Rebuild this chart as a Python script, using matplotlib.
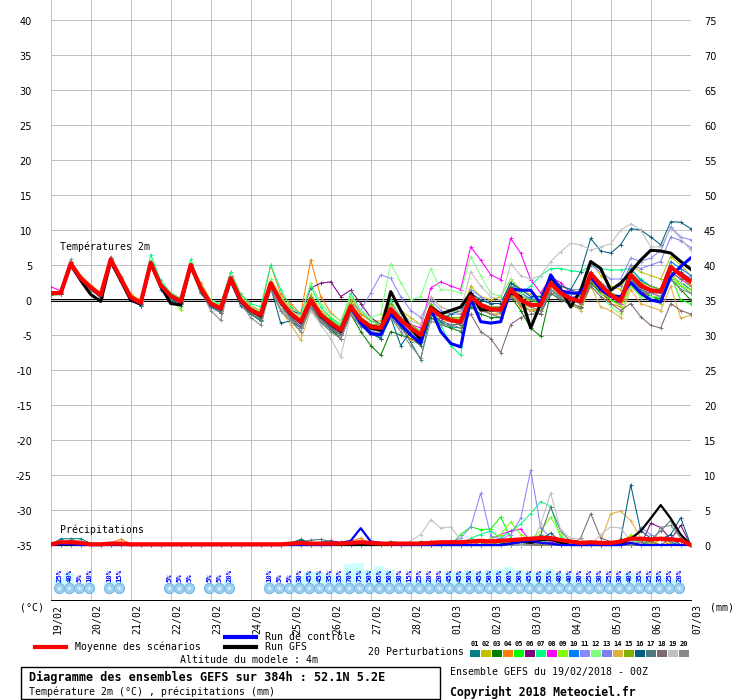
import numpy as np
import matplotlib
matplotlib.use("Agg")
import matplotlib.pyplot as plt
from matplotlib.patches import Rectangle

# GEFS run 19/02/2018 00Z, 6-hourly steps out to 384h
hours = np.arange(0, 385, 6)
days = ["19/02", "20/02", "21/02", "22/02", "23/02", "24/02", "25/02", "26/02", "27/02",
        "28/02", "01/03", "02/03", "03/03", "04/03", "05/03", "06/03", "07/03"]

# ---- 2m temperature (degC) -------------------------------------------------
mean_t = [1.0, 1.0, 5.2, 3.1, 1.8, 0.7, 5.8, 3.1, 0.4, -0.4, 5.3, 2.1, 0.6, -0.2, 5.0, 1.7,
          -0.5, -1.2, 3.1, 0.0, -1.4, -2.1, 2.4, -0.2, -1.9, -3.1, 0.0, -2.1, -3.3, -4.3, -0.9, -2.8,
          -3.8, -4.0, -1.3, -2.9, -4.0, -5.0, -1.2, -2.3, -2.9, -3.1, 0.5, -0.7, -1.3, -1.4, 1.5, 0.0,
          -0.7, -0.7, 2.4, 1.0, 0.2, -0.2, 3.8, 2.1, 0.7, -0.1, 3.6, 2.1, 1.4, 1.2, 4.7, 3.6, 2.6]
ctrl_t = [1.0, 1.0, 5.2, 3.0, 1.8, 0.6, 5.8, 3.0, 0.3, -0.5, 5.3, 2.0, 0.5, -0.3, 5.0, 1.6,
          -0.6, -1.3, 3.0, -0.1, -1.5, -2.2, 2.3, -0.3, -2.0, -3.2, -0.1, -2.2, -3.4, -4.4, -1.0, -3.3,
          -4.8, -5.0, -2.0, -3.5, -5.0, -6.2, -1.2, -4.5, -6.2, -6.7, 0.2, -3.1, -3.3, -3.1, 1.6, 1.4,
          1.4, -0.5, 3.6, 1.3, 1.0, 1.0, 3.3, 1.5, 0.5, 0.5, 2.5, 1.0, 0.0, -0.3, 3.3, 4.8, 6.0]
gfs_t = [1.0, 0.9, 5.0, 2.8, 0.8, -0.2, 5.5, 2.8, 0.0, -0.6, 5.3, 2.0, -0.5, -0.7, 4.9, 1.6,
         -0.6, -1.3, 3.0, -0.2, -1.5, -2.3, 2.3, -0.3, -2.0, -3.2, 0.0, -2.3, -3.5, -4.5, -1.0, -3.0,
         -4.0, -4.3, 1.2, -1.5, -4.0, -5.7, -1.0, -2.0, -1.5, -1.0, 1.0, -1.4, -1.4, -1.3, 1.0, 0.5,
         -4.0, -0.5, 3.3, 1.5, -1.0, 1.4, 5.5, 4.5, 1.4, 2.4, 4.0, 5.7, 7.1, 7.0, 6.7, 5.5, 4.4]

t01 = [0.8, 0.9, 5.5, 3.0, 1.5, 0.5, 6.0, 2.8, 0.0, -0.8, 5.0, 1.8, 0.4, -0.5, 4.5, 1.2,
       -0.8, -1.8, 2.5, -0.6, -2.0, -3.0, 1.5, -1.5, -3.0, -4.5, -1.0, -3.0, -4.2, -5.5, -1.8, -3.5,
       -4.8, -5.5, -2.0, -3.8, -6.0, -8.5, -2.0, -3.2, -3.8, -4.0, 0.0, -1.2, -2.0, -2.5, 1.0, -0.8,
       -1.5, -2.0, 1.5, 0.2, -0.8, -1.2, 2.5, 1.0, 0.0, -0.8, 2.8, 1.5, 0.5, 0.0, 3.5, 2.5, 1.5]
t02 = [1.2, 1.1, 5.0, 3.4, 2.0, 1.0, 5.5, 3.4, 0.8, 0.0, 5.6, 2.5, 1.0, 0.2, 5.3, 2.0,
       -0.2, -0.8, 3.5, 0.5, -1.0, -1.6, 3.0, 0.5, -1.2, -2.5, 0.8, -1.5, -2.5, -3.5, 0.0, -2.0,
       -3.0, -3.0, 1.2, -1.5, -2.5, -3.5, 0.5, -1.0, -1.5, -2.0, 2.0, 0.5, 0.0, 0.5, 3.0, 1.5,
       0.8, 0.5, 3.5, 2.0, 1.5, 1.0, 5.5, 3.5, 2.0, 1.5, 5.0, 4.0, 3.5, 3.0, 6.2, 5.0, 3.5]
t03 = [0.7, 0.8, 4.8, 2.8, 1.5, 0.3, 5.5, 2.7, 0.2, -0.6, 5.0, 1.9, 0.3, -0.4, 4.7, 1.4,
       -0.7, -1.5, 2.8, -0.3, -1.8, -2.5, 2.0, -0.8, -2.5, -3.8, -0.8, -2.8, -4.0, -5.5, -2.0, -4.5,
       -6.5, -7.9, -4.5, -5.0, -5.5, -6.5, -2.5, -3.5, -4.0, -4.5, -1.0, -2.0, -2.5, -2.5, 0.5, -1.5,
       -4.0, -5.2, 1.0, 0.0, -0.5, -1.0, 2.5, 1.0, 0.0, -0.5, 2.5, 1.2, 0.5, 0.2, 3.0, 1.5, 0.0]
t04 = [1.0, 1.2, 5.6, 3.5, 2.2, 1.0, 5.9, 3.5, 0.8, -0.2, 5.4, 2.4, 1.0, 0.2, 5.0, 2.5,
       0.0, -0.8, 4.0, 0.8, -0.8, -1.5, 5.0, 0.8, -0.5, -2.0, 5.7, 0.5, -1.8, -3.0, 0.5, -2.0,
       -3.0, -3.5, -0.5, -3.5, -5.7, -6.0, -1.5, -3.0, -3.0, -3.0, 1.0, -1.0, -2.0, -2.0, 0.8, -1.0,
       -1.5, -1.0, 2.0, 0.5, -0.5, -1.0, 2.8, 1.2, -0.5, -1.0, 2.0, 0.5, 1.0, 1.5, 4.0, 2.0, 1.0]
t05 = [1.1, 1.0, 5.3, 3.2, 1.8, 0.8, 5.7, 3.2, 0.5, -0.3, 5.5, 2.2, 0.8, -0.1, 5.2, 1.8,
       -0.3, -1.0, 3.3, 0.2, -1.2, -1.8, 2.6, 0.0, -1.8, -2.8, 0.5, -1.8, -2.8, -3.8, -0.5, -2.5,
       -3.5, -3.8, -1.5, -3.0, -3.8, -4.5, -0.8, -2.0, -2.5, -3.0, 0.8, -0.5, -1.0, -1.0, 1.8, 0.5,
       0.0, -0.5, 3.0, 1.5, 0.5, 0.0, 3.5, 1.8, 0.5, 0.0, 4.0, 2.0, 0.5, 0.0, 3.5, 0.0, -0.5]
t06 = [1.0, 0.9, 5.0, 3.0, 1.7, 0.6, 5.6, 3.0, 0.4, -0.5, 5.2, 2.0, 0.5, -0.3, 5.0, 1.7,
       -0.5, -1.3, 3.0, 0.0, -1.3, -2.0, 2.5, -0.5, -1.5, -2.0, 1.7, 2.4, 2.6, 0.5, 1.4, -0.5,
       -2.5, -3.5, -1.5, -3.0, -4.0, -5.5, -1.0, -2.5, -3.0, -3.5, 0.0, -1.0, -1.5, -1.5, 1.2, 0.0,
       -0.5, -0.5, 2.0, 0.5, 0.0, -0.5, 3.0, 1.5, 0.5, 0.0, 3.0, 1.8, 1.2, 1.5, 4.5, 4.0, 3.0]
t07 = [1.2, 1.2, 5.4, 3.3, 2.0, 0.9, 6.0, 3.4, 0.6, -0.2, 6.5, 2.8, 1.0, 0.2, 5.8, 2.0,
       0.0, -0.6, 4.0, 0.8, -0.5, -1.0, 5.0, 1.5, -1.0, -2.0, 2.0, -1.0, -2.5, -3.5, 1.0, -1.5,
       -3.0, -3.5, 0.0, -2.5, -3.5, -4.5, -1.0, -3.5, -6.5, -7.9, 1.0, -1.0, -1.0, -1.0, 2.0, 1.0,
       2.0, 3.5, 4.5, 4.5, 4.2, 4.0, 5.0, 4.5, 4.3, 4.3, 4.5, 3.0, 2.0, 1.5, 3.0, 2.0, 1.0]
t08 = [1.9, 1.3, 5.3, 3.0, 1.8, 0.7, 5.8, 3.2, 0.5, -0.3, 5.5, 2.2, 0.6, 0.0, 5.2, 1.9,
       -0.3, -1.0, 3.5, 0.2, -1.2, -2.0, 2.2, -0.5, -2.0, -3.0, 0.5, -2.0, -3.0, -4.0, -0.5, -2.8,
       -3.5, -3.8, -1.0, -2.5, -3.5, -4.0, 1.7, 2.6, 2.0, 1.5, 7.6, 5.7, 3.6, 2.9, 8.8, 6.7,
       2.9, 1.0, 3.3, 2.5, 1.0, 0.5, 3.0, 1.5, 0.5, -0.5, 2.5, 1.0, 1.0, 0.5, 4.0, 3.0, 2.0]
t09 = [0.9, 0.8, 5.0, 3.0, 1.6, 0.6, 5.6, 3.0, 0.3, -0.6, 5.0, 1.8, 0.2, -1.4, 4.8, 1.5,
       -0.6, -1.4, 3.0, -0.2, -1.5, -2.3, 2.0, -0.5, -2.0, -3.5, -0.5, -2.5, -3.5, -4.8, -1.2, -3.0,
       -4.0, -4.5, -2.0, -3.5, -4.5, -5.5, -1.5, -2.5, -2.5, -2.8, 0.8, -0.5, -1.0, -1.5, 1.2, -0.5,
       -1.0, -1.5, 3.0, 1.0, 0.0, -0.5, 3.5, 1.5, 0.0, -0.8, 2.5, 0.5, 0.0, -0.5, 3.5, 2.0, 1.5]
t10 = [1.0, 1.0, 5.1, 3.0, 1.8, 0.7, 5.7, 3.0, 0.4, -0.5, 5.2, 2.0, 0.5, -0.3, 4.9, 1.6,
       -0.6, -1.3, 3.0, -0.2, -1.5, -2.2, 2.2, -0.5, -2.2, -3.3, -0.2, -2.3, -3.5, -4.5, -1.0, -3.0,
       -4.0, -4.2, -1.5, -3.2, -4.2, -5.2, -1.0, -2.0, -2.5, -2.5, 1.0, 0.0, -0.5, -0.5, 2.5, 1.0,
       0.2, 0.0, 3.5, 1.5, 0.5, 0.0, 4.0, 2.5, 1.0, 0.5, 4.5, 2.8, 2.0, 1.5, 5.5, 4.5, 3.5]
t11 = [1.0, 1.1, 5.3, 3.2, 1.9, 0.8, 5.9, 3.2, 0.5, -0.3, 5.4, 2.2, 0.7, -0.1, 5.1, 1.8,
       -0.4, -1.1, 3.2, 0.1, -1.3, -2.0, 2.5, -0.1, -1.8, -3.0, 0.2, -2.0, -3.0, -4.0, -0.5, -1.5,
       1.0, 3.6, 3.1, 0.5, -1.5, -2.5, 0.0, -1.5, -2.0, -2.0, 1.5, 0.5, -0.5, -0.5, 2.0, 1.0,
       0.0, 0.0, 3.0, 2.0, 1.5, 1.5, 5.0, 4.0, 3.0, 3.0, 6.0, 5.5, 6.0, 7.0, 10.5, 9.0, 8.6]
t12 = [1.1, 1.0, 5.4, 3.3, 2.0, 0.9, 6.0, 3.3, 0.6, -0.2, 5.6, 2.4, 0.8, 0.0, 5.4, 2.0,
       0.0, -0.8, 3.6, 0.5, -0.9, -1.6, 3.0, 0.3, -1.5, -2.5, 2.5, -0.5, -2.0, -3.0, 0.5, -1.5,
       -2.5, -2.0, 5.2, 2.5, 0.0, 0.5, 4.5, 1.5, 1.4, 1.0, 6.2, 3.5, 1.0, 0.5, 3.0, 1.0,
       -0.5, -1.0, 2.0, 0.5, -0.5, -1.0, 2.0, 0.8, -1.0, -2.0, 2.0, 0.5, 0.5, 0.5, 3.5, 2.5, 2.0]
t13 = [0.9, 0.9, 5.1, 3.0, 1.7, 0.6, 5.7, 3.0, 0.3, -0.5, 5.1, 2.0, 0.5, -0.3, 4.8, 1.6,
       -0.6, -1.3, 2.9, -0.2, -1.6, -2.3, 2.0, -0.6, -2.3, -3.5, -0.5, -2.5, -3.8, -4.8, -1.5, -3.3,
       -4.5, -4.8, -2.0, -3.5, -4.8, -5.8, -1.5, -2.5, -3.0, -3.0, 0.5, -0.5, -1.0, -1.2, 1.5, 0.2,
       -0.5, -0.5, 2.0, 1.0, 0.5, 0.5, 3.5, 2.5, 1.5, 2.0, 5.0, 4.5, 5.0, 5.5, 9.0, 8.5, 7.5]
t14 = [1.0, 1.0, 5.0, 3.0, 1.7, 0.6, 5.7, 3.0, 0.3, -0.5, 5.0, 1.9, 0.4, -0.4, 4.7, 1.5,
       -0.8, -1.6, 2.6, -0.5, -1.8, -2.6, 1.5, -1.5, -3.5, -5.7, -1.5, -3.0, -4.0, -5.0, -1.5, -3.5,
       -4.2, -4.5, -1.5, -3.0, -4.0, -5.0, -1.0, -2.5, -3.0, -3.5, 0.0, -1.0, -2.0, -2.0, 1.0, -0.5,
       -1.5, -1.5, 2.0, 0.5, -0.5, -1.5, 2.0, -1.0, -1.5, -2.5, 1.5, -0.5, -1.0, -1.5, 2.0, -2.6, -2.2]
t15 = [1.0, 1.0, 5.2, 3.1, 1.8, 0.7, 5.8, 3.1, 0.4, -0.4, 5.3, 2.1, 0.6, -0.2, 5.0, 1.7,
       -0.5, -1.2, 3.1, 0.0, -1.4, -2.1, 2.4, -0.2, -1.9, -3.1, 0.5, -1.8, -3.0, -4.0, -0.5, -2.5,
       -3.5, -3.5, -0.5, -2.5, -3.5, -4.5, -0.5, -2.0, -2.5, -2.5, 0.5, -0.5, -1.0, -1.0, 2.0, 0.5,
       0.0, 0.0, 3.0, 1.5, 1.0, 0.5, 4.0, 2.5, 1.0, 0.5, 4.0, 2.5, 2.0, 1.5, 5.0, 3.5, 2.0]
t16 = [0.9, 0.8, 5.4, 3.0, 1.5, 0.5, 5.6, 2.8, 0.0, -0.8, 5.5, 1.5, 0.0, -0.8, 4.8, 1.0,
       -1.0, -1.8, 2.5, -0.8, -2.0, -2.8, 1.8, -3.3, -3.0, -4.0, -1.0, -2.8, -4.0, -5.0, -1.5, -3.0,
       -4.5, -5.5, -2.5, -6.5, -4.5, -5.0, -2.0, -3.0, -2.0, -1.5, 1.0, 0.0, -0.5, -0.5, 2.5, 1.5,
       0.5, 0.5, 3.5, 2.0, 1.5, 4.0, 8.8, 7.0, 6.7, 7.9, 10.2, 10.0, 9.0, 7.9, 11.2, 11.1, 10.2]
t17 = [0.9, 0.9, 5.0, 2.8, 1.5, 0.4, 5.5, 2.7, 0.1, -0.7, 5.0, 1.8, 0.2, -0.6, 4.6, 1.2,
       -1.0, -1.8, 2.7, -0.6, -2.0, -2.8, 1.8, -1.0, -2.8, -4.0, -1.0, -3.2, -4.5, -5.5, -2.0, -3.8,
       -4.5, -4.8, -2.5, -4.0, -5.0, -6.0, -2.0, -3.0, -3.5, -3.5, 0.2, -1.0, -1.5, -1.8, 1.5, 0.0,
       -0.5, -0.8, 3.5, 1.0, 0.0, -0.5, 3.0, 1.5, 0.5, 0.0, 3.0, 1.5, 1.0, 1.0, 4.0, 3.0, 3.0]
t18 = [1.0, 0.9, 5.0, 2.9, 1.6, 0.5, 5.6, 2.9, 0.2, -0.6, 5.1, 1.9, 0.4, -0.4, 4.8, 1.5,
       -0.7, -1.4, 2.8, -0.3, -1.6, -2.4, 2.0, -0.8, -2.5, -3.8, -0.8, -2.8, -4.0, -5.0, -1.5, -3.2,
       -4.2, -4.5, -2.0, -3.5, -4.5, -5.5, -1.5, -2.5, -3.0, -3.5, -2.0, -4.5, -5.5, -7.5, -3.5, -2.5,
       -2.0, -2.0, 1.0, 0.0, -0.5, -1.0, 2.0, 0.5, -0.5, -1.5, -0.5, -2.4, -3.6, -4.0, -0.5, -1.5, -2.0]
t19 = [1.0, 1.0, 5.3, 3.2, 1.9, 0.8, 5.9, 3.2, 0.5, -0.3, 5.4, 2.2, 0.7, -0.1, 5.1, 1.8,
       -0.4, -1.1, 3.2, 0.1, -1.3, -2.0, 2.0, -1.0, -3.0, -4.5, -1.5, -3.5, -5.5, -8.1, -2.0, -3.5,
       -4.0, -3.5, -1.0, -2.0, -3.0, -3.5, 0.5, -1.0, -1.5, -1.5, 4.0, 2.0, 0.5, 0.0, 5.2, 3.5,
       3.0, 3.5, 5.5, 6.9, 8.1, 7.9, 7.1, 7.6, 8.0, 10.0, 10.9, 10.0, 7.6, 7.6, 10.2, 8.8, 7.1]
t20 = [1.0, 1.0, 5.8, 3.0, 1.6, 0.5, 6.2, 2.9, 0.2, -0.6, 5.3, 1.9, 0.3, -0.5, 5.2, 1.4,
       -1.5, -2.9, 2.5, -0.5, -2.5, -3.6, 1.5, -1.5, -3.0, -4.5, -1.0, -3.0, -4.5, -5.5, -2.0, -3.5,
       -5.0, -5.0, -2.5, -4.5, -6.5, -8.3, -3.0, -3.5, -3.5, -4.0, -0.5, -1.5, -2.0, -2.5, 0.5, -0.5,
       -1.0, -1.5, 1.5, 0.5, 0.0, -0.5, 3.0, 1.5, 0.5, 0.0, 3.0, 1.0, 1.0, 0.5, 3.0, 1.5, 1.0]

# ---- precipitation per 6h (mm) --------------------------------------------
mean_p = [0.1, 0.4, 0.4, 0.3, 0.1, 0.1, 0.2, 0.2, 0.1, 0.1, 0.1, 0.1, 0.1, 0.1, 0.1, 0.1,
          0.1, 0.1, 0.1, 0.1, 0.1, 0.1, 0.1, 0.1, 0.2, 0.3, 0.2, 0.2, 0.2, 0.2, 0.3, 0.4,
          0.3, 0.2, 0.2, 0.2, 0.2, 0.2, 0.3, 0.4, 0.4, 0.4, 0.5, 0.6, 0.5, 0.6, 0.7, 0.8,
          0.9, 1.0, 1.0, 0.7, 0.5, 0.3, 0.4, 0.3, 0.3, 0.5, 0.9, 0.9, 0.8, 0.9, 0.8, 0.7, 0.0]
ctrl_p = [0, 0.1, 0.1, 0, 0, 0, 0, 0, 0, 0, 0, 0, 0, 0, 0, 0,
          0, 0, 0, 0, 0, 0, 0, 0, 0, 0, 0, 0, 0, 0.3, 0.6, 2.4,
          0.5, 0.3, 0.1, 0, 0, 0, 0, 0, 0, 0, 0, 0, 0, 0, 0.2, 0.4,
          0.6, 0.3, 0.2, 0, 0, 0, 0, 0, 0, 0, 0.3, 0, 0, 0, 0, 0, 0]
gfs_p = [0, 0, 0, 0, 0, 0, 0, 0, 0, 0, 0, 0, 0, 0, 0, 0,
         0, 0, 0, 0, 0, 0, 0, 0, 0, 0, 0, 0, 0, 0, 0, 0,
         0, 0, 0, 0, 0, 0, 0, 0, 0, 0, 0, 0, 0, 0, 0.2, 0.5,
         0.3, 0.7, 0.8, 0.3, 0, 0, 0, 0, 0, 0, 0.9, 2.0, 3.8, 5.7, 3.8, 1.5, 0]

p01 = [0, .9, .9, .9, .2, 0, 0, 0, 0, 0, 0, 0, 0, 0, 0, 0, 0, 0, 0, 0, 0, 0, 0, 0,
       .3, .8, .3, .4, .6, 0, 0, 0, 0, 0, .5, .3, 0, 0, 0, 0, 0, 0, 0, 0, .5, .3, 0, 0,
       .8, .4, 0, 0, 0, 0, 0, .3, 0, 0, 0, 0, .5, 1.0, .4, 0, 0]
p02 = [0, 0, 0, 0, 0, 0, 0, 0, 0, 0, 0, 0, 0, 0, 0, 0, 0, 0, 0, 0, 0, 0, 0, 0,
       0, 0, 0, 0, 0, .4, .5, 0, 0, 0, 0, 0, 0, 0, 0, 0, 0, 0, 0, 0, .4, 0, 0, 0,
       0, 1.5, 1.0, 0, 0, 0, 0, 0, 0, .6, 1.2, .5, 0, 0, .3, 0, 0]
p03 = [0, 0, 0, 0, 0, 0, 0, 0, 0, 0, 0, 0, 0, 0, 0, 0, 0, 0, 0, 0, 0, 0, 0, 0,
       0, 0, 0, .2, 0, 0, 0, 0, 0, 0, 0, 0, 0, .5, .4, 0, 0, 0, 0, 0, 0, 0, .8, 0,
       0, 1.2, .6, 0, 0, 0, 0, 0, 0, 0, 0, 0, .4, 0, 0, 0, 0]
p04 = [0, 0, 0, 0, 0, 0, .3, .8, .2, 0, 0, 0, 0, 0, 0, 0, 0, 0, 0, 0, 0, 0, 0, 0,
       0, 0, 0, 0, 0, 0, .5, 1.0, 0, 0, 0, 0, 0, 0, 0, 0, 0, 0, 0, .4, 0, 0, 0, 0,
       .6, 0, 0, 0, 0, 0, 0, 0, 0, 0, 0, .5, 0, .8, 0, 0, 0]
p05 = [0, 0, 0, 0, 0, 0, 0, 0, 0, 0, 0, 0, 0, 0, 0, 0, 0, 0, 0, 0, 0, 0, 0, 0,
       0, 0, 0, 0, 0, 0, 0, 0, 0, 0, 0, 0, .3, 0, 0, 0, 0, 1.5, 2.6, 2.2, 2.3, 4.0, 1.0, 0,
       0, 0, 0, 0, .5, 0, 0, 0, 0, 0, 0, .8, 0, 0, 0, 0, 0]
p06 = [0, 0, 0, 0, 0, 0, 0, 0, 0, 0, 0, 0, 0, 0, 0, 0, 0, 0, 0, 0, 0, 0, 0, 0,
       0, 0, .3, 0, .6, .4, 0, 0, 0, .3, 0, 0, 0, 0, 0, 0, 0, 0, 0, 0, 0, 0, 0, 0,
       0, 0, .5, 0, 0, 0, 0, 0, 0, 0, 0, 0, 3.1, 2.5, .8, 2.8, 0]
p07 = [0, 0, 0, 0, 0, 0, 0, 0, 0, 0, 0, 0, 0, 0, 0, 0, 0, 0, 0, 0, 0, 0, 0, 0,
       0, 0, 0, 0, 0, 0, 0, 0, 0, 0, 0, 0, 0, 0, 0, 0, 0, 0, 1.0, 1.5, 2.0, 1.0, 2.0, 3.0,
       4.5, 6.2, 5.5, 1.0, 0, 0, 0, 0, 0, 0, .8, 0, 0, 0, 0, 0, 0]
p08 = [0, 0, 0, 0, 0, 0, .2, 0, 0, 0, 0, 0, 0, 0, 0, 0, 0, 0, 0, 0, 0, 0, 0, 0,
       0, 0, 0, 0, 0, 0, 0, 0, 0, 0, 0, 0, 0, 0, .5, 0, .6, .3, 0, 0, .8, 1.5, 2.0, 2.3,
       .5, 0, .5, 0, 0, 0, 0, 0, 0, 0, 0, 0, 0, 0, 0, 0, 0]
p09 = [0, 0, 0, 0, 0, 0, 0, 0, 0, 0, 0, 0, 0, 0, 0, 0, 0, 0, 0, 0, 0, 0, 0, 0,
       0, 0, 0, 0, 0, 0, 0, 0, 0, 0, 0, 0, 0, 0, 0, 0, 0, 0, 0, 0, 1.0, 1.5, 3.3, 1.5,
       .8, 2.0, 4.0, 1.5, 0, 0, 0, 0, 0, 0, 1.5, .8, 0, 0, 0, 0, 0]
p10 = [0, 0, 0, 0, 0, 0, 0, 0, 0, 0, 0, 0, 0, 0, 0, 0, 0, 0, 0, 0, 0, 0, 0, 0,
       0, 0, 0, 0, 0, 0, 0, .4, .3, 0, 0, 0, 0, 0, 0, 0, 0, 0, 0, 0, 0, 0, 0, 0,
       .5, .8, 0, 0, 0, 0, 0, 0, 0, .3, 0, 0, 0, 0, 0, .6, 0]
p11 = [0, 0, 0, 0, 0, 0, 0, 0, 0, 0, 0, 0, 0, 0, 0, 0, 0, 0, 0, 0, 0, 0, 0, 0,
       0, 0, 0, 0, 0, 0, 0, 0, 0, 0, 0, 0, 0, 0, 0, 0, .4, 1.0, 2.6, 7.4, 1.3, .8, 1.5, 3.8,
       10.7, 2.5, 1.0, 0, 0, 0, 0, 0, 0, 0, .6, 0, 0, 0, 0, 0, 0]
p12 = [0, 0, 0, 0, 0, 0, 0, 0, 0, 0, 0, 0, 0, 0, 0, 0, 0, 0, 0, 0, 0, 0, 0, 0,
       0, 0, 0, 0, 0, 0, 0, 0, 0, 0, 0, 0, 0, 0, 0, .5, .4, 0, 0, 0, 0, 0, 0, 0,
       1.0, 1.5, 0, 0, 0, 0, 0, 0, 0, .5, 0, 1.0, 0, 0, 0, 0, 0]
p13 = [0, 0, 0, 0, 0, 0, 0, 0, 0, 0, 0, 0, 0, 0, 0, 0, 0, 0, 0, 0, 0, 0, 0, 0,
       0, 0, 0, 0, 0, 0, .3, .5, 0, 0, 0, 0, 0, 0, 0, 0, 0, 0, 0, 0, 0, 0, 0, 0,
       0, 0, 0, .8, .5, 0, 0, 0, 0, 0, 0, 2.5, 1.5, .8, 1.5, 0, 0]
p14 = [0, 0, 0, 0, 0, 0, 0, 0, 0, 0, 0, 0, 0, 0, 0, 0, 0, 0, 0, 0, 0, 0, 0, 0,
       0, 0, 0, 0, 0, .3, 0, 0, 0, 0, 0, 0, 0, 0, 0, 0, 0, 0, 0, 0, 0, 0, 0, 0,
       .4, 0, 0, 0, 0, 0, 0, .5, 4.5, 4.8, 3.5, 1.0, .3, 0, 0, 0, 0]
p15 = [0, 0, 0, 0, 0, 0, 0, 0, 0, 0, 0, 0, 0, 0, 0, 0, 0, 0, 0, 0, 0, 0, 0, 0,
       0, 0, 0, 0, 0, 0, 0, 0, 0, 0, 0, 0, 0, 0, 0, 0, 0, 0, 0, 0, 0, .5, 0, 0,
       0, 0, .8, 0, .4, 0, 0, 0, 0, 0, 0, 0, .6, 0, 0, 0, 0]
p16 = [0, 0, 0, 0, 0, 0, 0, 0, 0, 0, 0, 0, 0, 0, 0, 0, 0, 0, 0, 0, 0, 0, 0, 0,
       .2, .7, .3, 0, 0, 0, 0, 0, 0, 0, 0, 0, 0, 0, 0, 0, 0, 0, 0, 0, 0, 0, 0, 0,
       0, .8, 1.7, .5, 0, 0, 0, 0, 0, .8, 8.6, 2.0, 1.0, .8, 1.5, 3.9, 0]
p17 = [0, 0, 0, 0, 0, 0, 0, 0, 0, 0, 0, 0, 0, 0, 0, 0, 0, 0, 0, 0, 0, 0, 0, 0,
       0, .4, .7, .8, .5, 0, 0, 0, 0, 0, 0, 0, 0, 0, 0, 0, 0, 0, 0, 0, 0, 0, 0, 0,
       0, 1.5, 5.4, 2.0, .5, 0, 0, 0, 0, 0, 0, 0, .8, 2.0, 3.5, 1.0, 0]
p18 = [0, 0, 0, 0, 0, 0, 0, 0, 0, 0, 0, 0, 0, 0, 0, 0, 0, 0, 0, 0, 0, 0, 0, 0,
       0, 0, 0, 0, 0, 0, 0, 0, 0, .3, 0, 0, 0, 0, 0, 0, 0, 0, 0, 0, 0, 0, .5, 0,
       0, 0, 0, 0, 0, 1.0, 4.5, 1.0, .5, 0, 0, 0, 0, 0, 1.0, 0, 0]
p19 = [0, 0, 0, 0, 0, 0, 0, 0, 0, 0, 0, 0, 0, 0, 0, 0, 0, 0, 0, 0, 0, 0, 0, 0,
       0, 0, 0, 0, 0, 0, 0, 0, 0, 0, 0, 0, .6, 1.5, 3.6, 2.4, 2.6, .7, 0, 0, 0, 0, 0, 0,
       0, 3.0, 7.4, 2.1, 1.0, .8, 0, 1.5, 2.6, 2.4, .6, 0, 0, 0, 0, 0, 0]
p20 = [0, 0, .7, .5, 0, 0, 0, 0, 0, 0, 0, 0, 0, 0, 0, 0, 0, 0, 0, 0, 0, 0, 0, 0,
       0, 0, 0, 0, 0, 0, 0, 0, 0, 0, 0, 0, 0, 0, 0, 0, 0, 0, 0, 0, 0, 0, 0, .5,
       0, .5, .8, .5, 0, 0, 0, 0, 0, 0, 0, .5, 0, 2.5, 2.8, 1.0, 0]

pert_colors = ["#008080", "#c0c000", "#008000", "#ff8000", "#00ff00", "#800080", "#00ff80",
               "#ff00ff", "#80ff00", "#0080ff", "#8888ff", "#80ff80", "#8080f0", "#e0b040",
               "#80b000", "#006080", "#507880", "#806870", "#c0c0c0", "#888888"]

# ---- snow probability per step (%) -----------------------------------------
snow_hours = [6, 12, 18, 24, 36, 42, 72, 78, 84, 96, 102, 108,
              132, 138, 144, 150, 156, 162, 168, 174, 180, 186, 192, 198, 204, 210,
              216, 222, 228, 234, 240, 246, 252, 258, 264, 270, 276, 282, 288, 294,
              300, 306, 312, 318, 324, 330, 336, 342, 348, 354, 360, 366, 372, 378]
snow_pct = [25, 40, 5, 10, 10, 15, 5, 5, 5, 5, 5, 20,
            10, 5, 5, 30, 45, 45, 35, 35, 70, 75, 50, 65, 50, 30,
            15, 25, 20, 20, 45, 45, 50, 45, 50, 55, 60, 50, 45, 45,
            55, 40, 40, 30, 25, 30, 25, 30, 40, 35, 25, 35, 25, 20]

pert_t = [t01, t02, t03, t04, t05, t06, t07, t08, t09, t10,
          t11, t12, t13, t14, t15, t16, t17, t18, t19, t20]
pert_p = [p01, p02, p03, p04, p05, p06, p07, p08, p09, p10,
          p11, p12, p13, p14, p15, p16, p17, p18, p19, p20]

PRECIP_BASE = -35   # 0 mm sits on the -35 degC line


def py(row):
    # pixel row of the original image -> temperature units
    return (300 - row) / 7.0


plt.rcParams["font.family"] = "DejaVu Sans Mono"
GRID = "#c0c0c0"
PX = 0.72  # one pixel, in points

fig = plt.figure(figsize=(7.4, 7.0), dpi=100)
ax = fig.add_axes([50.7 / 740, 100 / 700, 640 / 740, 600 / 700])
ax.set_xlim(0, 384)
ax.set_ylim(py(600), py(0))
for s in ("top", "left", "right"):
    ax.spines[s].set_visible(False)
ax.spines["bottom"].set_linewidth(PX)
ax.set_xticks([])
ax.set_yticks([])

for d in range(len(days)):
    ax.axvline(d * 24, color=GRID, lw=PX, zorder=0)
for v in range(-35, 41, 5):
    ax.axhline(v, color=GRID, lw=PX, zorder=0)
ax.axhline(0.143, color="black", lw=PX, zorder=1)
ax.axhline(-0.143, color="black", lw=PX, zorder=1)

# spaghetti
for col, tt, pp in zip(pert_colors, pert_t, pert_p):
    ax.plot(hours, tt, color=col, lw=0.75, marker="+", ms=3, mew=0.6, zorder=2)
    ax.plot(hours, np.array(pp) + PRECIP_BASE, color=col, lw=0.75, marker="+", ms=3,
            mew=0.6, zorder=2)

ax.plot(hours, gfs_t, color="black", lw=2.2, zorder=3)
ax.plot(hours, np.array(gfs_p) + PRECIP_BASE, color="black", lw=1.6, zorder=3)
ax.plot(hours, ctrl_t, color="#0000ff", lw=2.2, zorder=4)
ax.plot(hours, np.array(ctrl_p) + PRECIP_BASE, color="#0000ff", lw=1.6, zorder=4)
ax.plot(hours, mean_t, color="#ff0000", lw=3.0, zorder=5)
ax.plot(hours, np.array(mean_p) + PRECIP_BASE, color="#ff0000", lw=3.0, zorder=5)

ax.text(5.6, py(247), "Températures 2m", fontsize=7.15, va="center", ha="left", zorder=6)
ax.text(5.6, py(530), "Précipitations", fontsize=7.15, va="center", ha="left", zorder=6)

# snow risk strip
sx = np.array(snow_hours) - 0.84
for h, p in zip(sx, snow_pct):
    ax.add_patch(Rectangle((h - 3, py(585)), 6, p * 0.3 / 7, fc="#ccffff", ec="none", zorder=3))
ax.scatter(sx, np.full(len(sx), py(588)), s=55, c="#9ccff0", edgecolors="#6aaee0",
           linewidths=0.6, zorder=4)
ax.scatter(sx, np.full(len(sx), py(588)), s=14, marker="*", c="#e8f6ff", linewidths=0, zorder=5)
for h, p in zip(sx, snow_pct):
    ax.text(h, py(581.5), "%d%%" % p, rotation=90, ha="center", va="bottom", fontsize=5.2,
            color="#0000ff", fontweight="bold", zorder=6)

# overlay in image pixels for the furniture
ov = fig.add_axes([0, 0, 1, 1])
ov.set_xlim(0, 740)
ov.set_ylim(700, 0)
ov.axis("off")
ov.patch.set_visible(False)

for v in range(-35, 41, 5):
    row = 300 - v * 7 + 2
    ov.text(32, row, str(v), ha="right", va="center", fontsize=7, family="DejaVu Sans")
    ov.text(704, row, str(v + 35), ha="left", va="center", fontsize=7, family="DejaVu Sans")

for d, lab in enumerate(days):
    ov.text(50.7 + 40 * d + 6.8, 604, lab, rotation=90, ha="center", va="top", fontsize=7.15)
ov.text(20, 607, "(°C)", fontsize=7.15, va="center")
ov.text(710, 607, "(mm)", fontsize=7.15, va="center")

ov.plot([35, 66], [647, 647], color="#ff0000", lw=3)
ov.text(75, 647, "Moyenne des scénarios", fontsize=7.15, va="center")
ov.plot([225, 256], [637, 637], color="#0000ff", lw=3)
ov.text(265, 637, "Run de contrôle", fontsize=7.15, va="center")
ov.plot([225, 256], [647, 647], color="black", lw=3)
ov.text(265, 647, "Run GFS", fontsize=7.15, va="center")
ov.text(180, 660, "Altitude du modele : 4m", fontsize=7.15, va="center")

ov.text(368, 652, "20 Perturbations", fontsize=7.15, va="center")
for i, col in enumerate(pert_colors):
    x0 = 470 + 11 * i
    ov.add_patch(Rectangle((x0, 650), 10, 6.5, fc=col, ec="none"))
    ov.text(x0 + 5, 643.5, "%02d" % (i + 1), ha="center", va="center", fontsize=5,
            fontweight="bold")

ov.add_patch(Rectangle((20.7, 667.3), 419.3, 31.7, fc="none", ec="black", lw=1.0))
ov.text(29, 677.5, "Diagramme des ensembles GEFS sur 384h : 52.1N 5.2E", fontsize=8.5,
        fontweight="bold", va="center")
ov.text(29, 692, "Température 2m (°C) , précipitations (mm)", fontsize=7.15, va="center")
ov.text(450, 672, "Ensemble GEFS du 19/02/2018 - 00Z", fontsize=7.15, va="center")
ov.text(450, 692, "Copyright 2018 Meteociel.fr", fontsize=8.3, fontweight="bold", va="center")

fig.savefig("out.png", dpi=100, facecolor="white")
